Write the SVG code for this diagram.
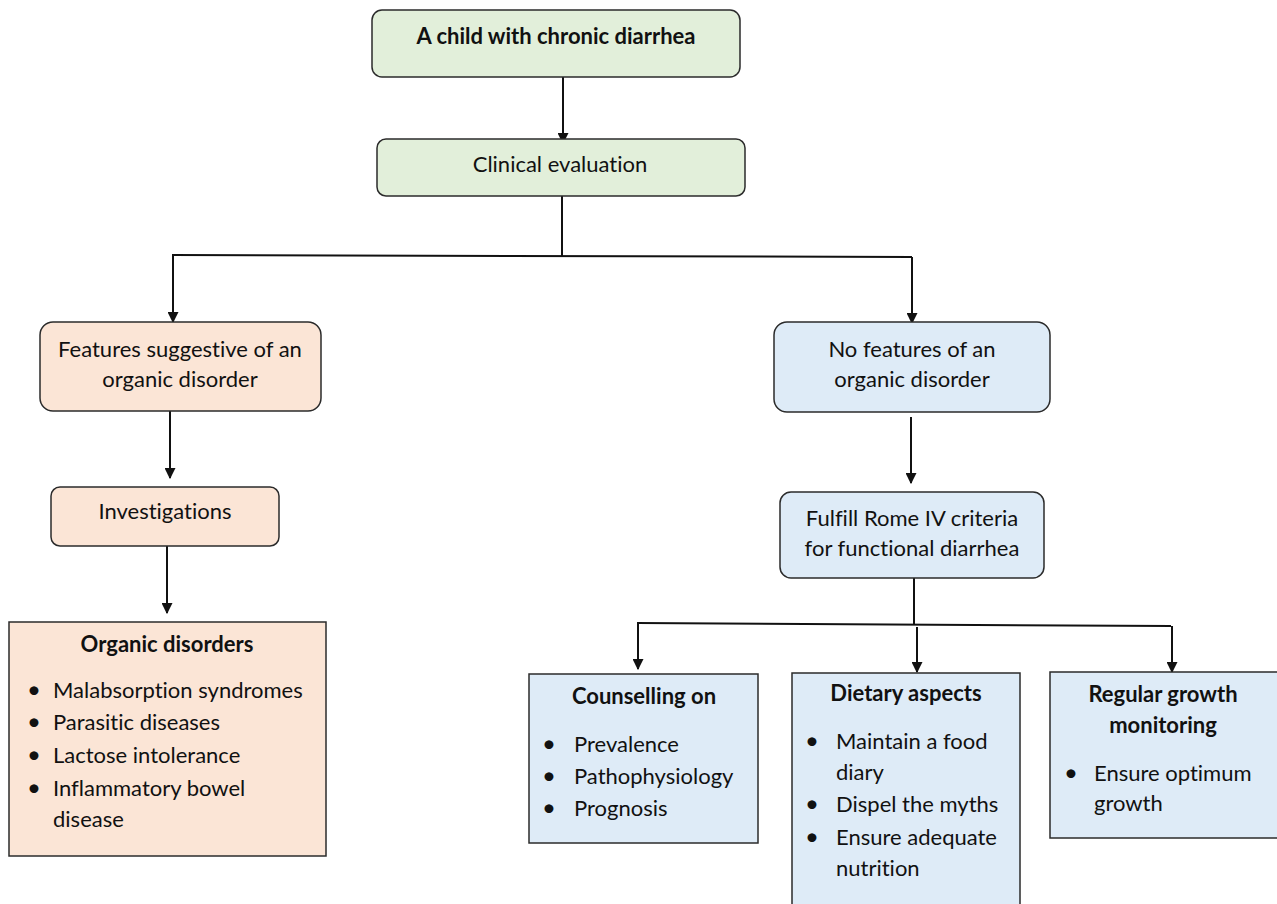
<svg xmlns="http://www.w3.org/2000/svg" width="1277" height="904" viewBox="0 0 1277 904">
<defs>
<marker id="arr" markerWidth="11" markerHeight="11" refX="9" refY="5" orient="auto" markerUnits="userSpaceOnUse" viewBox="0 0 10 10">
<path d="M0,0 L10,5 L0,10 Z" fill="#111"/>
</marker>
</defs>
<style>
text{font-family:Lato,"Open Sans","Liberation Sans",sans-serif;font-size:22px;fill:#111;font-variant-ligatures:none;font-feature-settings:"liga" 0,"dlig" 0}
.b{font-weight:bold}
.c{text-anchor:middle}
.d{font-size:24px}
.g{fill:#e2efda;stroke:#2b2b2b;stroke-width:1.5}
.p{fill:#fbe5d6;stroke:#2b2b2b;stroke-width:1.5}
.bl{fill:#deebf7;stroke:#2b2b2b;stroke-width:1.5}
.ln{fill:none;stroke:#111;stroke-width:2}
.ar{fill:none;stroke:#111;stroke-width:2;marker-end:url(#arr)}
</style>
<rect width="1277" height="904" fill="#fff"/>
<g id="connectors">
<line class="ar" x1="563" y1="77" x2="563" y2="143"/>
<line class="ln" x1="562" y1="196" x2="562" y2="256"/>
<line class="ln" x1="172" y1="255" x2="912" y2="257"/>
<line class="ar" x1="173" y1="255" x2="173" y2="322"/>
<line class="ar" x1="912" y1="257" x2="912" y2="323"/>
<line class="ar" x1="170" y1="411" x2="170" y2="478"/>
<line class="ar" x1="167" y1="546" x2="167" y2="613"/>
<line class="ar" x1="911" y1="417" x2="911" y2="483"/>
<line class="ln" x1="914" y1="578" x2="914" y2="625"/>
<line class="ln" x1="637" y1="623" x2="1171" y2="626"/>
<line class="ar" x1="638" y1="623" x2="638" y2="669"/>
<line class="ar" x1="917" y1="627" x2="917" y2="672"/>
<line class="ar" x1="1172" y1="626" x2="1172" y2="672"/>
</g>
<g id="n1">
<rect class="g" x="372" y="10" width="368" height="67" rx="10"/>
<text class="b c" x="556" y="44">A child with chronic diarrhea</text>
</g>
<g id="n2">
<rect class="g" x="377" y="139" width="368" height="57" rx="9"/>
<text class="c" x="560" y="172">Clinical evaluation</text>
</g>
<g id="n3">
<rect class="p" x="40" y="322" width="281" height="89" rx="13"/>
<text class="c" x="180" y="357">Features suggestive of an</text>
<text class="c" x="180" y="387">organic disorder</text>
</g>
<g id="n4">
<rect class="p" x="51" y="487" width="228" height="59" rx="9"/>
<text class="c" x="165" y="519">Investigations</text>
</g>
<g id="n5">
<rect class="p" x="9" y="622" width="317" height="234"/>
<text class="b c" x="167" y="652">Organic disorders</text>
<text class="d" x="27" y="698">•</text><text x="53" y="698">Malabsorption syndromes</text>
<text class="d" x="27" y="730">•</text><text x="53" y="730">Parasitic diseases</text>
<text class="d" x="27" y="763">•</text><text x="53" y="763">Lactose intolerance</text>
<text class="d" x="27" y="796">•</text><text x="53" y="796">Inflammatory bowel</text>
<text x="53" y="827">disease</text>
</g>
<g id="n6">
<rect class="bl" x="774" y="322" width="276" height="90" rx="13"/>
<text class="c" x="912" y="357">No features of an</text>
<text class="c" x="912" y="387">organic disorder</text>
</g>
<g id="n7">
<rect class="bl" x="780" y="492" width="264" height="86" rx="11"/>
<text class="c" x="912" y="526">Fulfill Rome IV criteria</text>
<text class="c" x="912" y="556">for functional diarrhea</text>
</g>
<g id="n8">
<rect class="bl" x="529" y="674" width="229" height="169"/>
<text class="b c" x="644" y="704">Counselling on</text>
<text class="d" x="542" y="752">•</text><text x="574" y="752">Prevalence</text>
<text class="d" x="542" y="784">•</text><text x="574" y="784">Pathophysiology</text>
<text class="d" x="542" y="816">•</text><text x="574" y="816">Prognosis</text>
</g>
<g id="n9">
<rect class="bl" x="792" y="673" width="228" height="240"/>
<text class="b c" x="906" y="701">Dietary aspects</text>
<text class="d" x="805" y="749">•</text><text x="836" y="749">Maintain a food</text>
<text x="836" y="780">diary</text>
<text class="d" x="805" y="812">•</text><text x="836" y="812">Dispel the myths</text>
<text class="d" x="805" y="845">•</text><text x="836" y="845">Ensure adequate</text>
<text x="836" y="876">nutrition</text>
</g>
<g id="n10">
<rect class="bl" x="1050" y="672" width="240" height="166"/>
<text class="b c" x="1163" y="702">Regular growth</text>
<text class="b c" x="1163" y="733">monitoring</text>
<text class="d" x="1064" y="781">•</text><text x="1094" y="781">Ensure optimum</text>
<text x="1094" y="811">growth</text>
</g>
</svg>
